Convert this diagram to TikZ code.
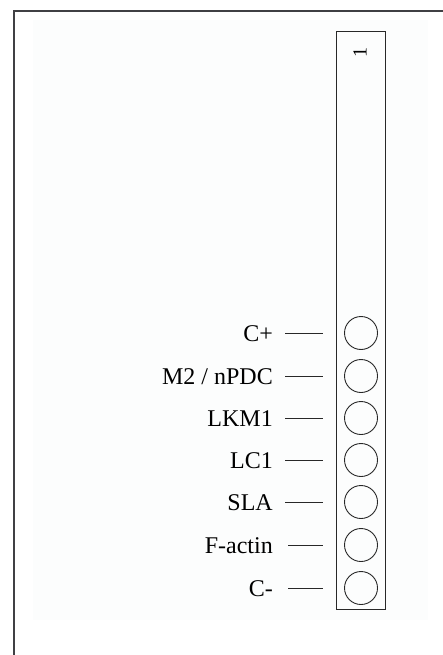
\documentclass[tikz,border=0pt]{standalone}
\usepackage{fontspec}
\setmainfont{Liberation Serif}
\definecolor{framegray}{RGB}{64,64,68}
\definecolor{linegray}{RGB}{40,40,40}
\definecolor{bgfaint}{RGB}{252,253,253}
\tikzset{
  lbl/.style={anchor=base east, inner sep=0pt, font=\fontsize{24}{24}\selectfont},
  spot/.style={circle, draw=linegray, line width=0.9pt, minimum size=33pt, inner sep=0pt},
  tick/.style={draw=linegray, line width=0.9pt}
}
\begin{document}
\begin{tikzpicture}[x=1pt,y=-1pt]
\useasboundingbox (0,0) rectangle (443,655);
\fill[white] (0,0) rectangle (443,655);
\fill[bgfaint] (33,20) rectangle (428,620);
% frame
\draw[framegray, line width=2pt] (14,655) -- (14,11) -- (443,11);
% strip
\node[draw=linegray, line width=1pt, minimum width=49pt, minimum height=577pt, inner sep=0pt] (strip) at (360.5,320.5) {};
\node[rotate=90, inner sep=0pt, font=\fontsize{20}{20}\selectfont] (num) at (360,53) {1};
% circles, labels and lines
\foreach \n/\t/\xs/\y in {cp/{C+}/285/333, m2/{M2 / nPDC}/285/376, lkm/{LKM1}/285/418, lc/{LC1}/285/460, sla/{SLA}/285/502, fa/{F-actin}/288/545, cm/{C-}/288/588}{
  \node[spot] (\n) at (361,\y) {};
  \coordinate (\n s) at (\xs,\y);
  \coordinate (\n e) at (323,\y);
  \draw[tick] (\n s) -- (\n e);
  \node[lbl] (\n t) at (273,\y+8) {\t};
}
\end{tikzpicture}
\end{document}
